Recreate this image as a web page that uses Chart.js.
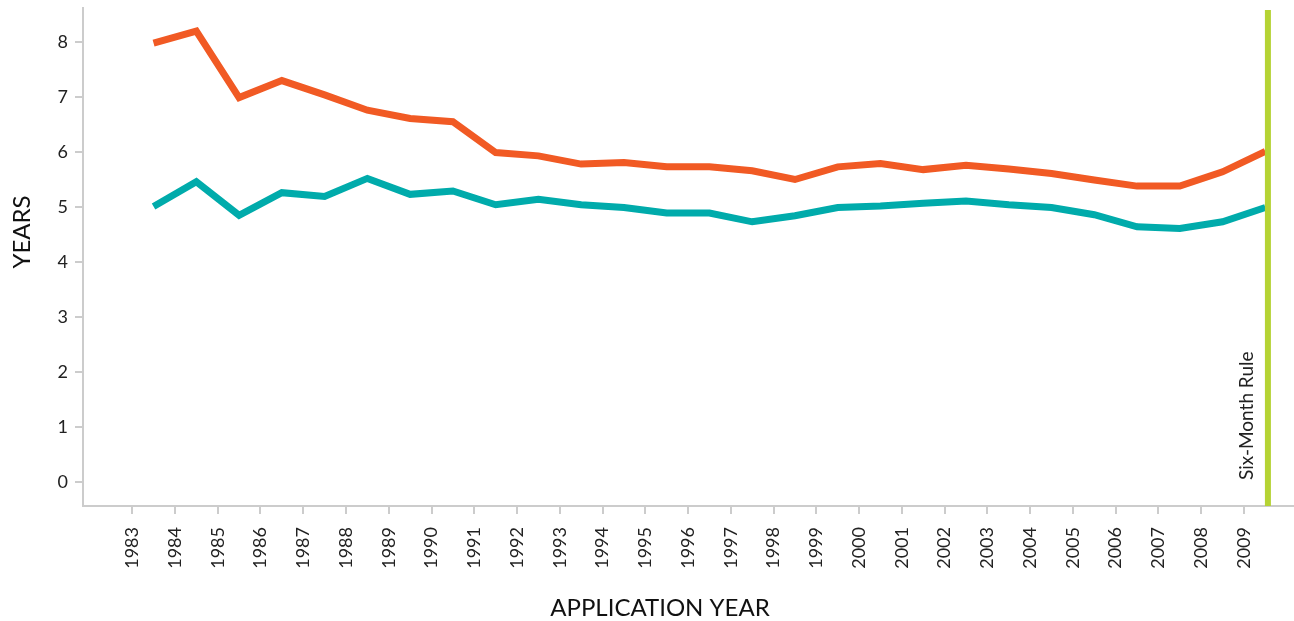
<!DOCTYPE html>
<html>
<head>
<meta charset="utf-8">
<script src="https://cdn.jsdelivr.net/npm/chart.js@4"></script>
<style>
  html, body { margin: 0; padding: 0; background: #fff; }
  #wrap { width: 1294px; height: 621px; }
</style>
</head>
<body>
<div id="wrap"><canvas id="myChart" width="1294" height="621"></canvas></div>
<script>
// tick labels on the x axis
var years = [1983, 1984, 1985, 1986, 1987, 1988, 1989, 1990, 1991, 1992, 1993, 1994, 1995, 1996,
    1997, 1998, 1999, 2000, 2001, 2002, 2003, 2004, 2005, 2006, 2007, 2008, 2009];
// points sit half way between the year ticks
var pointYears = [1983.5, 1984.5, 1985.5, 1986.5, 1987.5, 1988.5, 1989.5, 1990.5, 1991.5, 1992.5,
    1993.5, 1994.5, 1995.5, 1996.5, 1997.5, 1998.5, 1999.5, 2000.5, 2001.5, 2002.5, 2003.5,
    2004.5, 2005.5, 2006.5, 2007.5, 2008.5, 2009.5];
var orangeValues = [7.98, 8.2, 6.99, 7.3, 7.04, 6.76, 6.61, 6.55, 5.99, 5.93, 5.78, 5.81, 5.73, 5.73,
    5.66, 5.5, 5.73, 5.79, 5.68, 5.76, 5.69, 5.61, 5.49, 5.38, 5.38, 5.64, 6.01];
var tealValues = [5.01, 5.46, 4.85, 5.26, 5.19, 5.52, 5.23, 5.29, 5.04, 5.14, 5.04, 4.99, 4.89, 4.89,
    4.73, 4.84, 4.99, 5.02, 5.07, 5.11, 5.04, 4.99, 4.86, 4.64, 4.61, 4.73, 4.99];
var yTicks = [0, 1, 2, 3, 4, 5, 6, 7, 8];
var ruleYear = 2009.56;
var ruleLabel = 'Six-Month Rule';

var fontFamily = 'Lato, "Open Sans", sans-serif';

function toPoints(values) {
    return values.map(function (v, i) { return { x: pointYears[i], y: v }; });
}

// green vertical marker and its label, plus the axis titles
var extras = {
    id: 'extras',
    afterDatasetsDraw: function (chart) {
        var ctx = chart.ctx;
        var xs = chart.scales.x;
        var area = chart.chartArea;
        var px = xs.getPixelForValue(ruleYear);
        ctx.save();
        ctx.strokeStyle = '#b5d334';
        ctx.lineWidth = 6;
        ctx.beginPath();
        ctx.moveTo(px, area.top + 2);
        ctx.lineTo(px, area.bottom);
        ctx.stroke();

        ctx.fillStyle = '#222';
        ctx.font = '19px ' + fontFamily;
        ctx.translate(px - 21, area.bottom - 26);
        ctx.rotate(-Math.PI / 2);
        ctx.textAlign = 'left';
        ctx.textBaseline = 'middle';
        ctx.fillText(ruleLabel, 0, 0);
        ctx.restore();

        ctx.save();
        ctx.fillStyle = '#111';
        ctx.font = '24px ' + fontFamily;
        ctx.textAlign = 'center';
        ctx.textBaseline = 'middle';
        ctx.fillText('APPLICATION YEAR', 660, 608);
        ctx.translate(22, 232);
        ctx.rotate(-Math.PI / 2);
        ctx.fillText('YEARS', 0, 0);
        ctx.restore();
    }
};

var ctx = document.getElementById('myChart').getContext('2d');
var chart = new Chart(ctx, {
    type: 'line',
    data: {
        datasets: [{
            label: 'orange',
            data: toPoints(orangeValues),
            borderColor: '#f15a24',
            borderWidth: 7,
            borderJoinStyle: 'miter',
            borderCapStyle: 'butt',
            pointRadius: 0,
            tension: 0,
            fill: false
        }, {
            label: 'teal',
            data: toPoints(tealValues),
            borderColor: '#00abab',
            borderWidth: 7,
            borderJoinStyle: 'miter',
            borderCapStyle: 'butt',
            pointRadius: 0,
            tension: 0,
            fill: false
        }]
    },
    options: {
        responsive: false,
        animation: false,
        layout: { padding: { top: 8, right: 0, left: 0, bottom: 0 } },
        plugins: {
            legend: { display: false },
            tooltip: { enabled: false }
        },
        scales: {
            x: {
                type: 'linear',
                min: 1981.85,
                max: 2010.17,
                afterBuildTicks: function (scale) {
                    scale.ticks = years.map(function (y) { return { value: y }; });
                },
                afterFit: function (scale) {
                    scale.height = 115;
                    scale.paddingLeft = 0;
                    scale.paddingRight = 0;
                },
                ticks: {
                    autoSkip: false,
                    minRotation: 90,
                    maxRotation: 90,
                    padding: 13,
                    color: '#222',
                    font: { family: fontFamily, size: 18 },
                    callback: function (v) { return String(v); }
                },
                grid: { drawOnChartArea: false, tickLength: 8, color: '#cccccc', lineWidth: 2 },
                border: { color: '#cccccc', width: 2 }
            },
            y: {
                min: -0.44,
                max: 8.62,
                afterBuildTicks: function (scale) {
                    scale.ticks = yTicks.map(function (v) { return { value: v }; });
                },
                afterFit: function (scale) {
                    scale.width = 83;
                    scale.paddingTop = 0;
                    scale.paddingBottom = 0;
                },
                ticks: {
                    padding: 7,
                    color: '#222',
                    font: { family: fontFamily, size: 18 }
                },
                grid: { drawOnChartArea: false, tickLength: 8, color: '#cccccc', lineWidth: 2 },
                border: { color: '#cccccc', width: 2 }
            }
        }
    },
    plugins: [extras]
});
</script>
</body>
</html>
